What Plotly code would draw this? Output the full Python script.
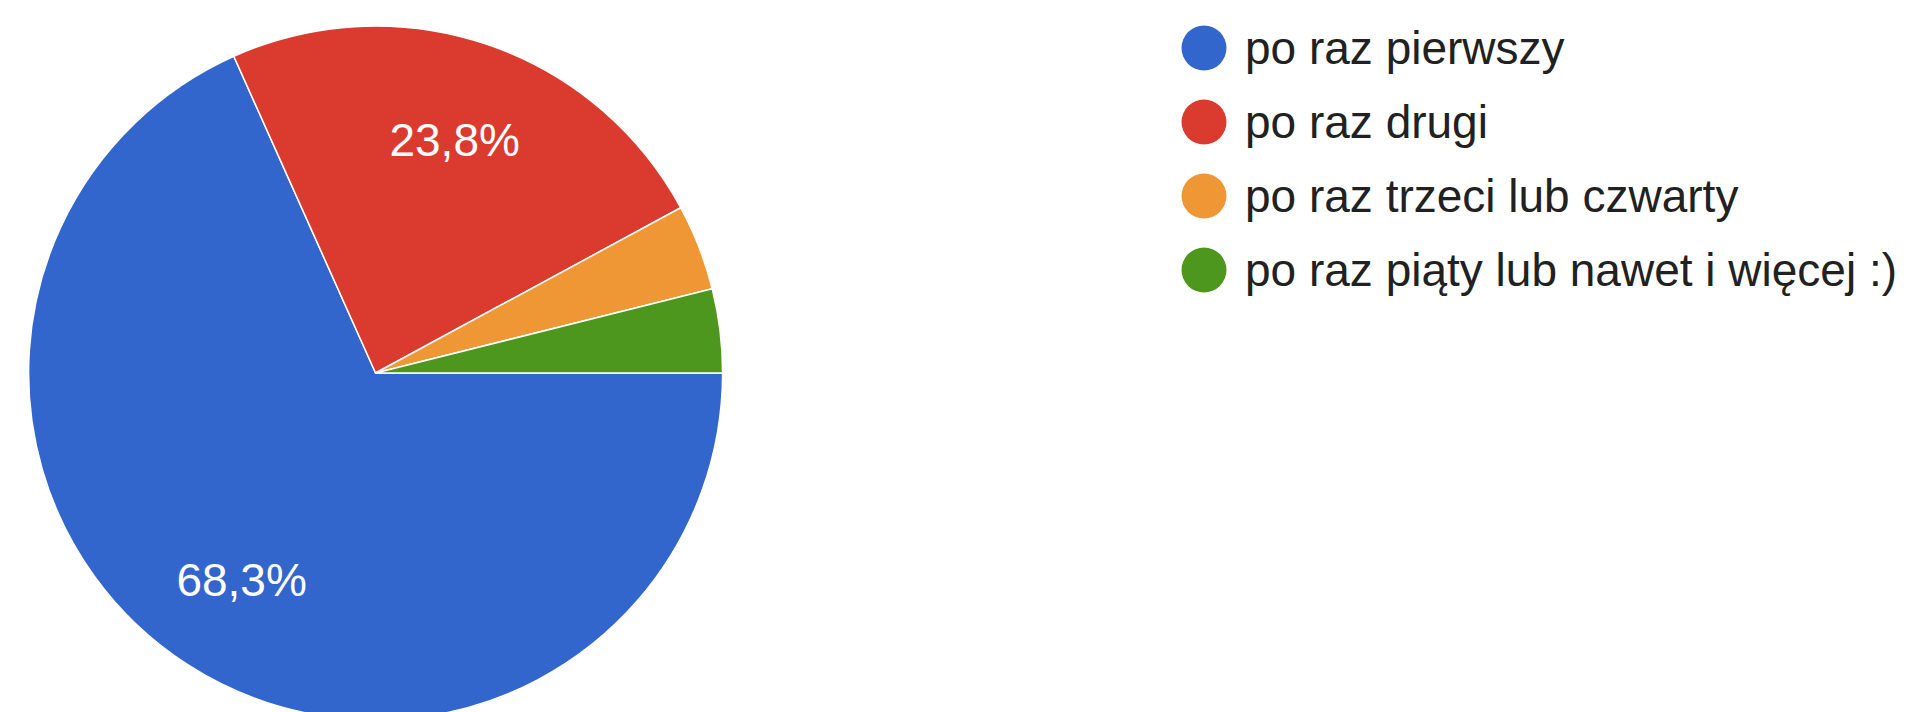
import plotly.graph_objects as go

# ---- data ----
labels = ["po raz pierwszy", "po raz drugi", "po raz trzeci lub czwarty",
          "po raz piąty lub nawet i więcej :)"]
values = [68.3, 23.8, 4.0, 3.9]
colors = ["#3366CC", "#DB3B2F", "#F09735", "#4E971E"]

W, H = 1907, 712
FONT = "Liberation Sans, Arial, sans-serif"

total = sum(values)
templates = ["%{percent:.1%}" if v / total >= 0.05 else "" for v in values]

# pie placement (pixels)
pie_cx, pie_top, pie_size = 367.6, 18, 694
dom_x = [(pie_cx - pie_size / 2) / W, (pie_cx + pie_size / 2) / W]
dom_y = [max(0.0, 1 - (pie_top + pie_size) / H), 1 - pie_top / H]

fig = go.Figure()

# coloured slices
fig.add_trace(go.Pie(
    labels=labels, values=values, sort=False, direction="clockwise", rotation=90,
    marker=dict(colors=colors, line=dict(color="white", width=1.5)),
    textinfo="none", showlegend=False, hoverinfo="label+percent",
    domain=dict(x=dom_x, y=dom_y),
))

# transparent overlay carrying the percentage labels (hole pushes labels outward)
fig.add_trace(go.Pie(
    labels=labels, values=values, sort=False, direction="clockwise", rotation=90,
    hole=0.42,
    marker=dict(colors=["rgba(0,0,0,0)"] * len(values), line=dict(width=0)),
    texttemplate=templates, textposition="inside", insidetextorientation="horizontal",
    textfont=dict(family=FONT, size=46, color="white"),
    showlegend=False, hoverinfo="skip",
    domain=dict(x=dom_x, y=dom_y),
))

# manual legend with circular markers
leg_x, leg_y0, leg_dy, dot = 1196, 40, 74, 45
shapes, annotations = [], []
for i, (lab, col) in enumerate(zip(labels, colors)):
    cy = leg_y0 + i * leg_dy
    shapes.append(dict(
        type="circle", xref="paper", yref="paper",
        xsizemode="pixel", ysizemode="pixel",
        xanchor=leg_x / W, yanchor=1 - cy / H,
        x0=-dot / 2, x1=dot / 2, y0=-dot / 2, y1=dot / 2,
        fillcolor=col, line=dict(width=0),
    ))
    annotations.append(dict(
        text=lab, xref="paper", yref="paper", x=1235 / W, y=1 - cy / H,
        xanchor="left", yanchor="middle", showarrow=False,
        font=dict(family=FONT, size=46, color="#212121"),
    ))

fig.update_layout(
    width=W, height=H, margin=dict(l=0, r=0, t=0, b=0),
    paper_bgcolor="white", plot_bgcolor="white",
    separators=",.",
    shapes=shapes, annotations=annotations,
    font=dict(family=FONT),
)

fig.write_html("out.html")
